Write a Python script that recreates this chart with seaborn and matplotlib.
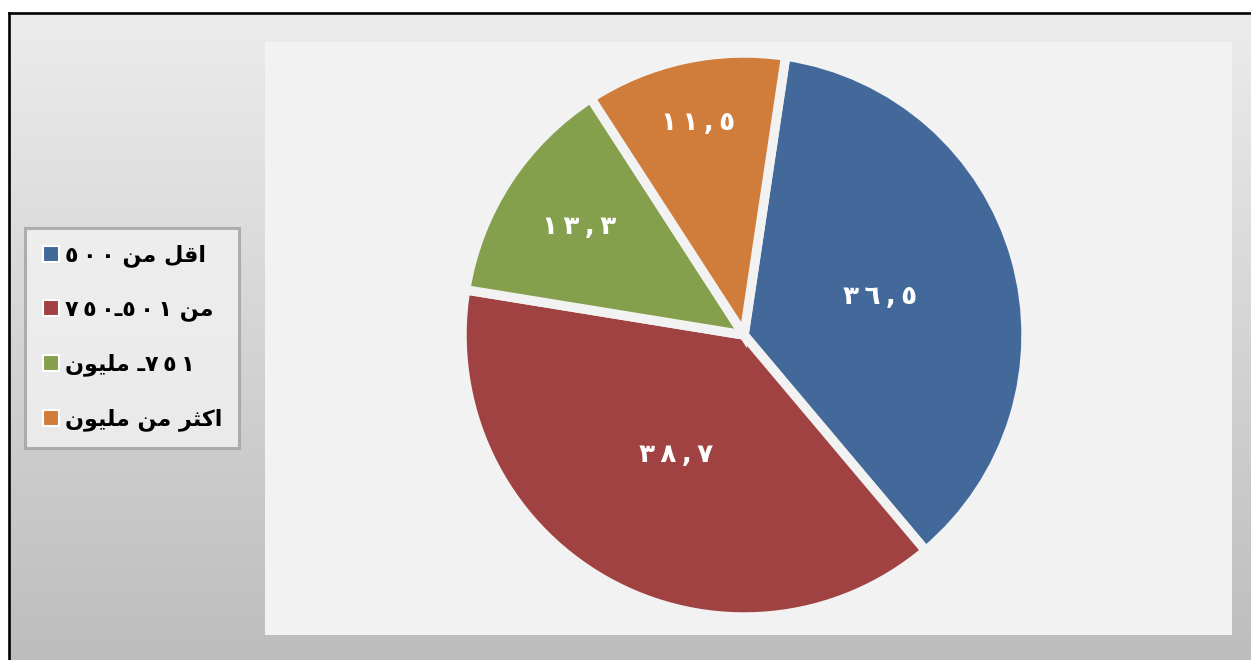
import re
import numpy as np
import matplotlib
matplotlib.use("Agg")
import matplotlib.pyplot as plt
from matplotlib.colors import LinearSegmentedColormap
from matplotlib.lines import Line2D
import seaborn as sns

# ---- data -------------------------------------------------------------
categories = ["اقل من ٥٠٠", "من ٥٠١ـ٧٥٠", "٧٥١ـ مليون", "اكثر من مليون"]
shares = [36.5, 38.7, 13.3, 11.5]
palette = ["#43699B", "#A14242", "#85A04D", "#D07C3A"]

sns.set_style("white")
plt.rcParams["font.family"] = ["DejaVu Sans"]
plt.rcParams["text.color"] = "black"

# ---- minimal Arabic shaping / visual ordering for matplotlib -------------
# (isolated, final, initial, medial); None => letter does not join forward
FORMS = {
    "ا": ("\uFE8D", "\uFE8E", None, None),
    "ر": ("\uFEAD", "\uFEAE", None, None),
    "و": ("\uFEED", "\uFEEE", None, None),
    "ق": ("\uFED5", "\uFED6", "\uFED7", "\uFED8"),
    "ك": ("\uFED9", "\uFEDA", "\uFEDB", "\uFEDC"),
    "ل": ("\uFEDD", "\uFEDE", "\uFEDF", "\uFEE0"),
    "م": ("\uFEE1", "\uFEE2", "\uFEE3", "\uFEE4"),
    "ن": ("\uFEE5", "\uFEE6", "\uFEE7", "\uFEE8"),
    "ث": ("\uFE99", "\uFE9A", "\uFE9B", "\uFE9C"),
    "ي": ("\uFEF1", "\uFEF2", "\uFEF3", "\uFEF4"),
}
DIGITS = "\u0660-\u0669"


def shape(text):
    out = []
    for i, ch in enumerate(text):
        if ch not in FORMS:
            out.append(ch)
            continue
        prev = text[i - 1] if i > 0 else ""
        nxt = text[i + 1] if i + 1 < len(text) else ""
        jp = prev in FORMS and FORMS[prev][2] is not None
        jn = FORMS[ch][2] is not None and nxt in FORMS
        iso, fin, ini, med = FORMS[ch]
        out.append(med if (jp and jn) else fin if jp else ini if jn else iso)
    return "".join(out)


def spaced_digits(m):
    return "\u2009".join(m.group(0))


def visual(text):
    rev = shape(text)[::-1]
    rev = re.sub(f"[{DIGITS},]+", lambda m: m.group(0)[::-1], rev)
    return re.sub(f"[{DIGITS}]+", spaced_digits, rev)


def arabic_number(v):
    s = f"{v:.1f}".replace(".", ",")
    s = s.translate(str.maketrans("0123456789", "٠١٢٣٤٥٦٧٨٩"))
    return "\u2009".join(s)


# ---- figure -----------------------------------------------------------
W, H = 1251, 660
fig = plt.figure(figsize=(W / 100, H / 100), dpi=100)
fig.patch.set_facecolor("white")

# chart-area background: vertical grey gradient with a dark frame
bg = fig.add_axes([0, 0, 1, 1], zorder=0)
bg.axis("off")
grad = LinearSegmentedColormap.from_list("g", ["#ECECEC", "#BDBDBD"])
bg.imshow(np.linspace(0, 1, 256)[:, None], cmap=grad, aspect="auto",
          extent=[9, W + 5, H + 5, 13], zorder=0)
bg.plot([9, W + 5], [13, 13], color="black", lw=1.9, solid_capstyle="projecting")
bg.plot([9, 9], [13, H + 5], color="black", lw=1.9, solid_capstyle="projecting")
bg.set_xlim(0, W)
bg.set_ylim(H, 0)

# plot area
pl, pr, pt, pb = 265, 1232, 42, 635
ax = fig.add_axes([pl / W, (H - pb) / H, (pr - pl) / W, (pb - pt) / H], zorder=1)
ax.set_facecolor("#F2F2F2")

center = (744 - pl, pb - 335)
radius = 282
start = 81.5
wedges, _ = ax.pie(
    shares,
    colors=palette,
    startangle=start,
    counterclock=False,
    radius=radius,
    center=center,
    explode=[0.05, 0, 0, 0],
    frame=True,
    wedgeprops=dict(edgecolor="#F2F2F2", linewidth=6.8, antialiased=True),
)

ax.set_xlim(0, pr - pl)
ax.set_ylim(0, pb - pt)
ax.set_aspect("auto")
ax.set_xticks([])
ax.set_yticks([])
for sp in ax.spines.values():
    sp.set_visible(False)

# value labels inside the slices
label_r = [0.50, 0.49, 0.70, 0.77]
for w, v, lr in zip(wedges, shares, label_r):
    mid = np.deg2rad((w.theta1 + w.theta2) / 2)
    cx, cy = w.center
    ax.text(cx + lr * w.r * np.cos(mid), cy + lr * w.r * np.sin(mid),
            arabic_number(v), ha="center", va="center", color="white",
            fontsize=19, fontweight="bold", zorder=4)

# legend
handles = [Line2D([], [], marker="s", linestyle="none", markersize=12,
                  markerfacecolor=c, markeredgecolor="white",
                  markeredgewidth=1.5) for c in palette]
leg = fig.legend(handles, [visual(c) for c in categories],
                 loc="upper left", bbox_to_anchor=(25 / W, 1 - 228 / H),
                 bbox_transform=fig.transFigure, frameon=True, fancybox=False,
                 fontsize=16, labelspacing=1.45, handletextpad=0.2,
                 handlelength=0.85, borderpad=0.75, borderaxespad=0)
for t in leg.get_texts():
    t.set_fontweight("bold")
    t.set_color("black")
fr = leg.get_frame()
fr.set_facecolor("#F2F2F2")
fr.set_edgecolor("#A0A0A0")
fr.set_linewidth(2.2)
leg.set_zorder(5)

fig.savefig("out.png", dpi=100, facecolor=fig.get_facecolor())
